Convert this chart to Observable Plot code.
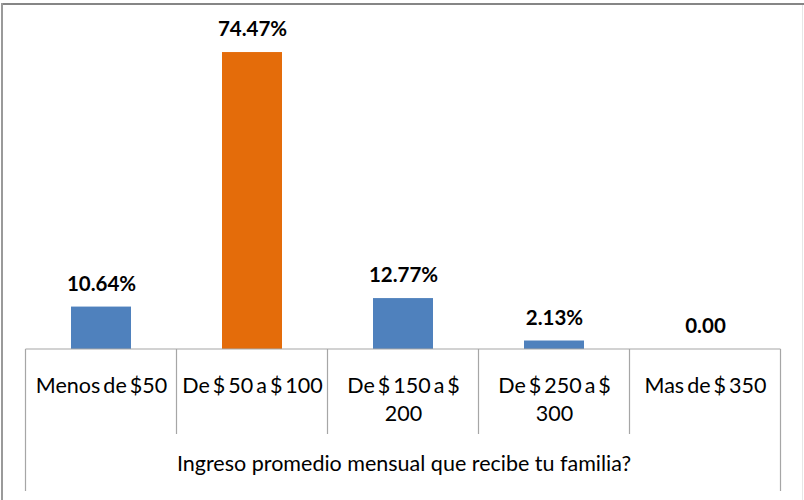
<!DOCTYPE html>
<html>
<head>
<meta charset="utf-8">
<script src="https://cdn.jsdelivr.net/npm/d3@7"></script>
<script src="https://cdn.jsdelivr.net/npm/@observablehq/plot@0.6"></script>
<style>
  html, body { margin: 0; padding: 0; background: #fff; }
  #chart { width: 804px; height: 500px; overflow: hidden; }
</style>
</head>
<body>
<div id="chart"></div>
<script>
const categories = ["Menos de $50", "De $ 50 a $ 100", "De $ 150 a $ 200", "De $ 250 a $ 300", "Mas de $ 350"];
const tickLabels = ["Menos de $50", "De $ 50 a $ 100", "De $ 150 a $\n200", "De $ 250 a $\n300", "Mas de $ 350"];
const values = [10.64, 74.47, 12.77, 2.13, 0.00];
const valueLabels = ["10.64%", "74.47%", "12.77%", "2.13%", "0.00"];
const barColors = ["#4F81BD", "#E46C0A", "#4F81BD", "#4F81BD", "#4F81BD"];
const axisTitle = "Ingreso promedio mensual que recibe tu familia?";

const data = categories.map((c, i) => ({cat: c, value: values[i], label: valueLabels[i], tick: tickLabels[i], color: barColors[i]}));

const font = "Lato, 'Open Sans', sans-serif";

const plot = Plot.plot({
  width: 804,
  height: 500,
  marginTop: 30,
  marginBottom: 151,
  marginLeft: 26,
  marginRight: 23,
  style: {fontFamily: font, background: "transparent", overflow: "visible"},
  x: {domain: categories, paddingInner: 0.6, paddingOuter: 0.3, axis: null},
  y: {domain: [0, 80], axis: null},
  marks: [
    Plot.barY(data, {x: "cat", y: "value", fill: "color"}),
    Plot.text(data, {x: "cat", y: "value", text: "label", dy: -23, fontSize: 20.5, fontWeight: "bold", fill: "#000"}),
    Plot.text(data, {x: "cat", y: 0, text: "tick", lineAnchor: "top", dy: 24, fontSize: 21.5, lineHeight: 1.3, fill: "#000"}),
    Plot.text([axisTitle], {frameAnchor: "bottom", dy: 121, fontSize: 21.5, fill: "#000"})
  ]
});

document.getElementById("chart").appendChild(plot);

const svg = d3.select(plot);
// tighter word spacing on category labels (Calibri-like narrow spaces)
const textGroups = svg.selectAll("g[aria-label='text']").nodes();
if (textGroups[1]) d3.select(textGroups[1]).style("word-spacing", "-2.5px");

const xs = plot.scale("x");
const ys = plot.scale("y");
const step = xs.step;
const bw = xs.bandwidth;
const base = ys.apply(0);
const lefts = categories.map(c => xs.apply(c) - (step - bw) / 2);
const x0 = lefts[0];
const x1 = lefts[lefts.length - 1] + step;
const g = svg.append("g").attr("stroke", "#a6a6a6").attr("stroke-width", 1.2).attr("fill", "none");
g.append("line").attr("x1", x0).attr("x2", x1).attr("y1", base).attr("y2", base);
lefts.forEach((l, i) => {
  g.append("line").attr("x1", l).attr("x2", l).attr("y1", base).attr("y2", i === 0 ? base + 142 : base + 85);
});
g.append("line").attr("x1", x1).attr("x2", x1).attr("y1", base).attr("y2", base + 142);

// outer frame
svg.append("line").attr("x1", 1).attr("x2", 804).attr("y1", 4).attr("y2", 4).attr("stroke", "#868686").attr("stroke-width", 2);
svg.append("line").attr("x1", 2).attr("x2", 2).attr("y1", 3).attr("y2", 500).attr("stroke", "#9a9a9a").attr("stroke-width", 2);
svg.append("line").attr("x1", 802.5).attr("x2", 802.5).attr("y1", 5).attr("y2", 500).attr("stroke", "#e6e6e6").attr("stroke-width", 1);
</script>
</body>
</html>
